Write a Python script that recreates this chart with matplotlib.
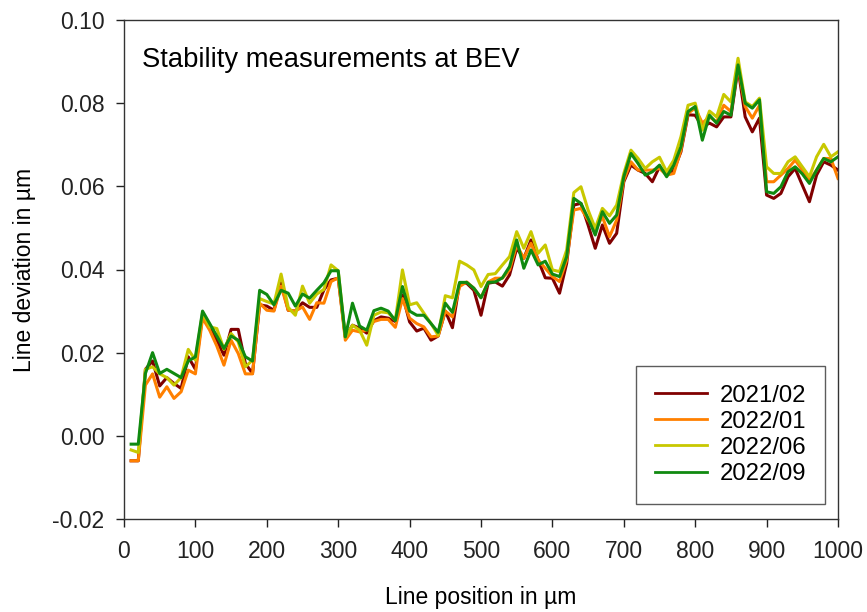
import matplotlib
matplotlib.use("Agg")
import matplotlib.pyplot as plt
from matplotlib.ticker import FormatStrFormatter, MultipleLocator

plt.rcParams['font.family'] = ['Liberation Sans', 'DejaVu Sans']

# Line positions in um (one value every 10 um)
line_pos = list(range(10, 1010, 10))

# Line deviation in um
dev_2021_02 = [
    -0.006, -0.006, 0.016, 0.018, 0.012, 0.014, 0.0126, 0.0114, 0.019, 0.016,
    0.029, 0.0266, 0.023, 0.0194, 0.0256, 0.0256, 0.0174, 0.015, 0.0315, 0.0312,
    0.0302, 0.0368, 0.0302, 0.030, 0.032, 0.0309, 0.0309, 0.0351, 0.0375, 0.0379,
    0.0237, 0.0266, 0.0259, 0.0247, 0.0277, 0.0286, 0.0283, 0.0275, 0.0339, 0.0274,
    0.0252, 0.0259, 0.023, 0.024, 0.030, 0.026, 0.0367, 0.0367, 0.035, 0.029,
    0.0367, 0.037, 0.036, 0.0387, 0.0451, 0.0427, 0.0471, 0.0423, 0.038, 0.0379,
    0.0343, 0.0415, 0.0555, 0.0559, 0.0507, 0.0451, 0.0507, 0.0463, 0.0487, 0.0611,
    0.0651, 0.0639, 0.0631, 0.0611, 0.0647, 0.0627, 0.0639, 0.0683, 0.0772, 0.0771,
    0.0743, 0.0752, 0.0743, 0.0767, 0.0767, 0.0884, 0.0767, 0.0731, 0.0764, 0.0579,
    0.0571, 0.0583, 0.0623, 0.0643, 0.0603, 0.0563, 0.0627, 0.0659, 0.0651, 0.0639,
]
dev_2022_01 = [
    -0.006, -0.006, 0.0122, 0.0149, 0.0093, 0.0118, 0.009, 0.0106, 0.0158, 0.0149,
    0.0283, 0.0254, 0.0216, 0.017, 0.023, 0.0198, 0.0149, 0.0149, 0.0319, 0.0302,
    0.030, 0.036, 0.0302, 0.030, 0.031, 0.028, 0.032, 0.0319, 0.0371, 0.038,
    0.023, 0.0254, 0.025, 0.0254, 0.0275, 0.028, 0.028, 0.0261, 0.033, 0.0283,
    0.027, 0.0262, 0.0238, 0.024, 0.030, 0.0286, 0.0359, 0.037, 0.0355, 0.0332,
    0.037, 0.0379, 0.0379, 0.0399, 0.0459, 0.0427, 0.0463, 0.0423, 0.0403, 0.0383,
    0.0371, 0.0423, 0.0543, 0.0547, 0.0519, 0.0495, 0.0527, 0.0479, 0.0519, 0.0615,
    0.0659, 0.0639, 0.0639, 0.0639, 0.0643, 0.0627, 0.0631, 0.0687, 0.0776, 0.0788,
    0.0752, 0.0767, 0.0755, 0.0795, 0.078, 0.0888, 0.0792, 0.0764, 0.0795, 0.0611,
    0.0611, 0.0627, 0.0643, 0.0663, 0.0639, 0.0615, 0.0639, 0.0667, 0.0667, 0.0619,
]
dev_2022_06 = [
    -0.0034, -0.004, 0.016, 0.0166, 0.0149, 0.014, 0.0122, 0.014, 0.0208, 0.0182,
    0.0296, 0.0262, 0.0258, 0.0208, 0.0246, 0.0226, 0.0166, 0.0182, 0.033, 0.0323,
    0.0317, 0.0389, 0.0309, 0.029, 0.036, 0.0319, 0.0341, 0.0352, 0.0411, 0.0397,
    0.0237, 0.0266, 0.0254, 0.0218, 0.029, 0.0298, 0.0296, 0.0278, 0.0399, 0.0315,
    0.032, 0.0295, 0.027, 0.0242, 0.0337, 0.0332, 0.042, 0.0411, 0.0399, 0.0359,
    0.0388, 0.039, 0.0411, 0.0431, 0.0491, 0.0451, 0.0491, 0.0439, 0.0459, 0.0399,
    0.0395, 0.0447, 0.0585, 0.0599, 0.0543, 0.0499, 0.0547, 0.0529, 0.0555, 0.0631,
    0.0687, 0.0667, 0.0643, 0.0659, 0.067, 0.0635, 0.0663, 0.0719, 0.0795, 0.080,
    0.0735, 0.0781, 0.0767, 0.0821, 0.0803, 0.0908, 0.0803, 0.0792, 0.0812, 0.0647,
    0.0631, 0.0631, 0.0659, 0.0671, 0.0647, 0.0623, 0.0671, 0.0701, 0.0671, 0.0683,
]
dev_2022_09 = [
    -0.002, -0.002, 0.015, 0.020, 0.015, 0.016, 0.015, 0.014, 0.018, 0.019,
    0.030, 0.027, 0.024, 0.021, 0.024, 0.023, 0.019, 0.018, 0.035, 0.034,
    0.0315, 0.035, 0.0343, 0.0312, 0.0341, 0.0331, 0.035, 0.0368, 0.0397, 0.0397,
    0.0238, 0.0319, 0.0264, 0.0254, 0.0301, 0.0307, 0.030, 0.0277, 0.0359, 0.030,
    0.029, 0.029, 0.027, 0.0249, 0.0319, 0.0297, 0.0369, 0.0369, 0.0355, 0.0332,
    0.0369, 0.037, 0.038, 0.0407, 0.0471, 0.0403, 0.0447, 0.0411, 0.042, 0.0389,
    0.0383, 0.0431, 0.0571, 0.0559, 0.0523, 0.0483, 0.0539, 0.0511, 0.0531, 0.0623,
    0.0679, 0.0655, 0.0627, 0.0635, 0.0651, 0.0623, 0.0651, 0.0695, 0.078, 0.0792,
    0.0711, 0.0771, 0.0752, 0.078, 0.0771, 0.0892, 0.080, 0.0788, 0.0808, 0.0587,
    0.0583, 0.0599, 0.0635, 0.0647, 0.063, 0.0607, 0.0639, 0.0667, 0.0659, 0.0671,
]

series = [
    ("2021/02", dev_2021_02, "#800000"),
    ("2022/01", dev_2022_01, "#ff8000"),
    ("2022/06", dev_2022_06, "#c8c800"),
    ("2022/09", dev_2022_09, "#108a10"),
]

fig = plt.figure(figsize=(8.67, 6.12), dpi=100)
ax = fig.add_axes([124 / 867, 1 - 519 / 612, 714 / 867, 499 / 612])

for label, vals, col in series:
    ax.plot(line_pos, vals, color=col, lw=2.2, label=label)

ax.set_xlim(0, 1000)
ax.set_ylim(-0.02, 0.10)
ax.xaxis.set_major_locator(MultipleLocator(100))
ax.yaxis.set_major_locator(MultipleLocator(0.02))
ax.yaxis.set_major_formatter(FormatStrFormatter('%.2f'))
ax.tick_params(direction='out', length=6, width=1, labelsize=16.5, colors='#222222')
ax.tick_params(axis='x', pad=9)
ax.tick_params(axis='y', pad=8)
for s in ax.spines.values():
    s.set_linewidth(1)
    s.set_color('#333333')

ax.set_xlabel("Line position in µm", fontsize=16.5, labelpad=17)
ax.set_ylabel("Line deviation in µm", fontsize=16.5, labelpad=12)

ax.text(0.025, 0.906, "Stability measurements at BEV", transform=ax.transAxes,
        fontsize=19.7, va='baseline', ha='left')

leg = ax.legend(loc='lower right', bbox_to_anchor=(0.982, 0.030), borderaxespad=0,
                fontsize=17.2, frameon=True, fancybox=False, labelspacing=0.17,
                handlelength=2.2, handletextpad=0.5, borderpad=0.8)
leg.get_frame().set_edgecolor('#333333')
leg.get_frame().set_linewidth(1)
for h in leg.get_lines():
    h.set_linewidth(2.0)

fig.savefig("out.png", dpi=100)
